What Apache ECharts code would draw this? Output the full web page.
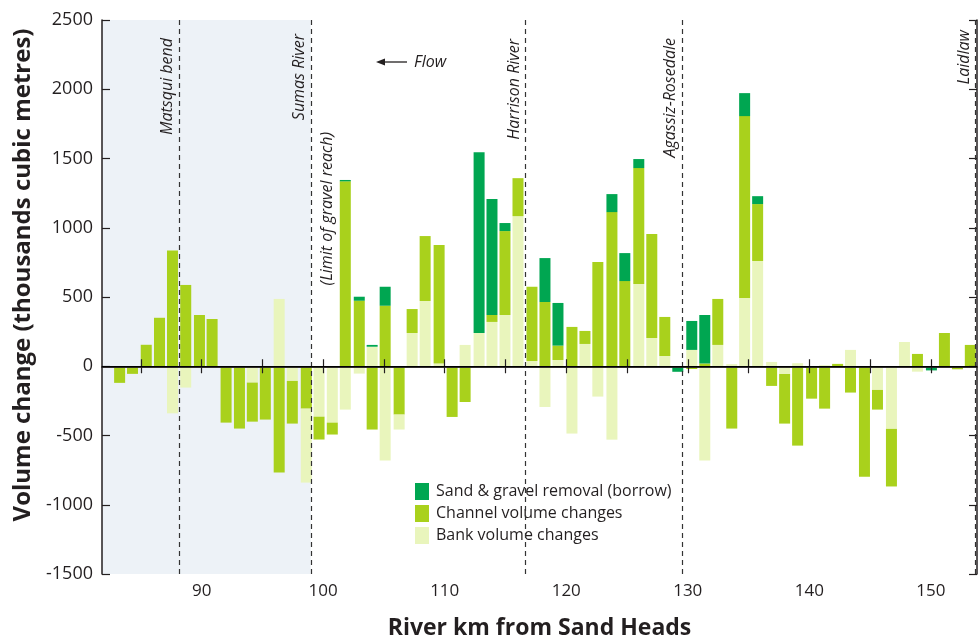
<!DOCTYPE html>
<html>
<head>
<meta charset="utf-8">
<script src="https://cdn.jsdelivr.net/npm/echarts@6/dist/echarts.min.js"></script>
<style>
html,body{margin:0;padding:0;background:#fff;}
#chart{width:979px;height:639px;}
</style>
</head>
<body>
<div id="chart"></div>
<script>
// Reach midpoints (river km from Sand Heads)
const reachKm = [83.25,84.31,85.44,86.53,87.60,88.69,89.82,90.86,92.01,93.11,94.17,95.24,96.38,97.46,98.61,99.66,
  100.75,101.82,102.97,104.03,105.10,106.25,107.32,108.39,109.54,110.61,111.68,112.83,113.89,114.96,116.03,117.18,
  118.25,119.32,120.47,121.54,122.60,123.76,124.82,125.97,127.04,128.11,129.18,130.33,131.40,132.47,133.62,134.68,
  135.75,136.90,137.97,139.04,140.19,141.26,142.33,143.39,144.54,145.61,146.76,147.83,148.90,150.05,151.12,152.19,153.25];

// Bank volume changes (stacked next to zero)
const bankNear = [0,0,0,0,-340,-154,0,0,0,0,-118,0,486,-106,0,-364,
  -407,-313,-53,141,-681,0,240,471,19,0,154,240,320,370,1084,38,
  -294,45,-486,161,-219,-530,0,594,204,74,0,118,-681,154,15,493,
  760,31,-56,22,0,7,0,118,0,-171,-452,175,-39,0,0,0,0];
// Channel volume changes
const channel = [-120,-55,155,350,835,587,370,341,-407,-450,-282,-385,-768,-308,-306,-165,
  -86,1335,473,-457,437,-349,173,469,856,-366,-258,0,50,606,274,536,
  464,104,284,94,752,1113,615,837,751,282,0,-20,20,332,-450,1313,
  411,-142,-358,-573,-234,-306,17,-190,-797,-142,-416,0,89,0,240,-22,154];
// Sand & gravel removal (borrow)
const borrow = [0,0,0,0,0,0,0,0,0,0,0,0,0,0,0,0,
  0,10,29,13,137,0,0,0,0,0,0,1306,837,58,0,0,
  317,308,0,0,0,130,202,65,0,0,-40,209,350,0,0,166,
  57,0,0,0,0,0,0,0,0,0,0,0,0,-30,0,0,0];
// Bank volume changes stacked beyond the channel change
const bankFar = [0,0,0,0,0,0,0,0,0,0,0,0,0,0,-534,0,
  0,0,0,0,0,-108,0,0,0,0,0,0,0,0,0,0,
  0,0,0,0,0,0,0,0,0,0,0,0,0,0,0,0,
  0,0,0,0,0,0,0,0,0,0,0,0,0,0,0,0,0];

const xTicks = [85,90,95,100,105,110,115,120,125,130,135,140,145,150];
const xLabels = [90,100,110,120,130,140,150];
const landmarkKm = [88.13, 98.98, 116.62, 129.52, 153.69];
const landmarkNames = ['Matsqui bend','Sumas River','Harrison River','Agassiz-Rosedale','Laidlaw'];
const gravelLimitKm = 98.98;
const gravelLimitText = '(Limit of gravel reach)';
const xMin = 81.8, xMax = 153.8;

const C_BORROW = '#00a651', C_CHANNEL = '#a9d11c', C_BANK = '#e9f5bc';
const FONT = '"Open Sans", "Noto Sans", sans-serif';
const INK = '#231f20';

// value first so that the stacked dimension is the value (y) dimension
function pairs(arr){ return arr.map((v,i)=>[v, reachKm[i]]); }

const chart = echarts.init(document.getElementById('chart'), null, {renderer:'canvas'});

const axisLine = {show:true, lineStyle:{color:INK, width:1.5}};
const baseBar = {type:'bar', stack:'v', barWidth:11, xAxisIndex:0, yAxisIndex:0, z:2,
  encode:{x:1, y:0}, animation:false, emphasis:{disabled:true}};

chart.setOption({
  animation:false,
  textStyle:{fontFamily:FONT},
  grid:{left:102, right:2, top:20, bottom:65, containLabel:false, outerBoundsMode:'none'},
  legend:{
    show:true, orient:'vertical', left:415, top:483, padding:0,
    itemWidth:14, itemHeight:17, itemGap:5, icon:'rect',
    textStyle:{fontFamily:FONT, fontSize:16, color:INK, padding:[0,0,0,2]},
    data:['Sand & gravel removal (borrow)','Channel volume changes','Bank volume changes'],
    selectedMode:false
  },
  xAxis:[{
    type:'value', position:'bottom', min:xMin, max:xMax, z:5,
    axisLine:axisLine, splitLine:{show:false},
    axisTick:{show:true, inside:true, length:7, customValues:xTicks, lineStyle:{color:INK, width:1.2}},
    axisLabel:{show:true, customValues:xLabels, margin:9, fontSize:17, color:INK, fontFamily:FONT,
      formatter:v=>String(v)},
    name:'River km from Sand Heads', nameLocation:'middle', nameGap:43,
    nameTextStyle:{fontFamily:FONT, fontSize:23, fontWeight:'bold', color:INK}
  },{
    type:'value', position:'top', min:xMin, max:xMax, z:5,
    axisLine:axisLine, splitLine:{show:false},
    axisTick:{show:true, inside:true, length:7, customValues:xTicks, lineStyle:{color:INK, width:1.2}},
    axisLabel:{show:false}
  }],
  yAxis:[{
    type:'value', position:'left', min:-1500, max:2500, interval:500, z:5,
    axisLine:axisLine, splitLine:{show:false},
    axisTick:{show:true, inside:true, length:8, lineStyle:{color:INK, width:1.2}},
    axisLabel:{show:true, margin:9, fontSize:18, color:INK, fontFamily:FONT, formatter:v=>String(v)},
    name:'Volume change (thousands cubic metres)', nameLocation:'middle', nameGap:55,
    nameTextStyle:{fontFamily:FONT, fontSize:24, fontWeight:'bold', color:INK, padding:[0,0,0,44]}
  },{
    type:'value', position:'right', min:-1500, max:2500, interval:500, z:5,
    axisLine:axisLine, splitLine:{show:false},
    axisTick:{show:true, inside:true, length:8, lineStyle:{color:INK, width:1.2}},
    axisLabel:{show:false}
  }],
  series:[
    Object.assign({}, baseBar, {
      name:'Bank volume changes', data:pairs(bankNear), itemStyle:{color:C_BANK},
      markArea:{silent:true, z:1, itemStyle:{color:'#edf2f7'},
        data:[[{xAxis:xMin},{xAxis:gravelLimitKm}]]},
      markLine:{silent:true, z:6, symbol:'none', label:{show:false},
        data: landmarkKm.map(k=>({xAxis:k, lineStyle:{color:'#333', type:[5,4], width:1.2}}))
          .concat([{yAxis:0, lineStyle:{color:'#000', type:'solid', width:1.2}}])}
    }),
    Object.assign({}, baseBar, {name:'Channel volume changes', data:pairs(channel), itemStyle:{color:C_CHANNEL}}),
    Object.assign({}, baseBar, {name:'Sand & gravel removal (borrow)', data:pairs(borrow), itemStyle:{color:C_BORROW}}),
    Object.assign({}, baseBar, {name:'Bank volume changes', data:pairs(bankFar), itemStyle:{color:C_BANK}})
  ]
});

// Annotations placed relative to the axis scale
const labelTop = [38, 34, 39, 38, 30];
const graphics = [];
landmarkKm.forEach((k,i)=>{
  const px = chart.convertToPixel({xAxisIndex:0}, k);
  graphics.push({type:'text', x:px-3, y:labelTop[i], rotation:Math.PI/2, silent:true, z:20,
    style:{text:landmarkNames[i], fontFamily:FONT, fontStyle:'italic', fontSize:16, fill:INK,
      align:'right', verticalAlign:'bottom'}});
});
const gx = chart.convertToPixel({xAxisIndex:0}, gravelLimitKm);
graphics.push({type:'text', x:gx+9, y:132, rotation:Math.PI/2, silent:true, z:20,
  style:{text:gravelLimitText, fontFamily:FONT, fontStyle:'italic', fontSize:16, fill:INK,
    align:'right', verticalAlign:'top'}});
// Flow arrow
graphics.push({type:'line', silent:true, z:20, shape:{x1:382, y1:62, x2:407, y2:62}, style:{stroke:INK, lineWidth:1.3}});
graphics.push({type:'polygon', silent:true, z:20, shape:{points:[[376,62],[385,58.5],[385,65.5]]}, style:{fill:INK}});
graphics.push({type:'text', x:414, y:62, silent:true, z:20,
  style:{text:'Flow', fontFamily:FONT, fontStyle:'italic', fontSize:16, fill:INK, align:'left', verticalAlign:'middle'}});
chart.setOption({graphic:graphics});
</script>
</body>
</html>
